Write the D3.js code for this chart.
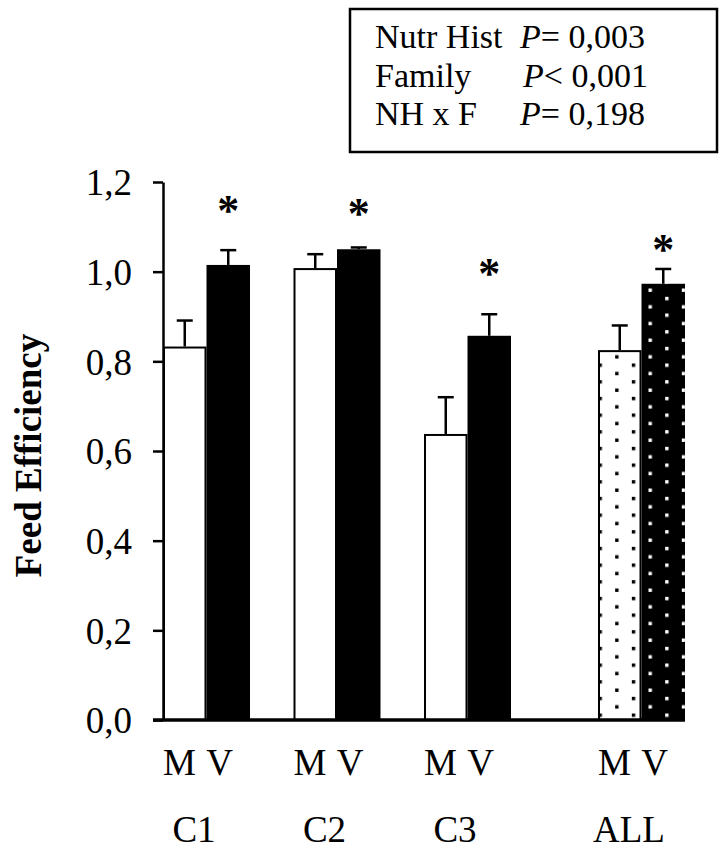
<!DOCTYPE html>
<html>
<head>
<meta charset="utf-8">
<script src="https://cdn.jsdelivr.net/npm/d3@7/dist/d3.min.js"></script>
<style>
  html, body { margin: 0; padding: 0; background: #fff; }
  svg { display: block; }
  text { font-family: "Liberation Serif", "Times New Roman", serif; fill: #000; }
</style>
</head>
<body>
<svg id="chart" width="726" height="851"></svg>
<script>
// ---- data ----
const groups = ["C1", "C2", "C3", "ALL"];
const gapsBefore = [0, 1, 1, 2];           // empty slots before each group
const meanM = [0.833, 1.008, 0.638, 0.825];
const errM  = [0.058, 0.031, 0.082, 0.055];
const meanV = [1.015, 1.050, 0.857, 0.973];
const errV  = [0.033, 0.004, 0.048, 0.033];
const starLevel = [1.15, 1.145, 1.01, 1.065];
const yTicks = [0, 0.2, 0.4, 0.6, 0.8, 1.0, 1.2];
const yTickLabels = ["0,0", "0,2", "0,4", "0,6", "0,8", "1,0", "1,2"];
const legendLabels = ["Nutr Hist", "Family", "NH x F"];
const legendOps = ["= ", "< ", "= "];
const legendP = ["0,003", "0,001", "0,198"];
const yTitle = "Feed Efficiency";

// ---- scales ----
const slots = [];
groups.forEach((g, i) => {
  for (let k = 0; k < gapsBefore[i]; k++) slots.push("gap" + i + "_" + k);
  slots.push(g + "-M", g + "-V");
});
const x = d3.scaleBand().domain(slots).range([163, 685]).paddingInner(0).paddingOuter(0);
const y = d3.scaleLinear().domain([0, 1.2]).range([720, 182]);

const svg = d3.select("#chart");

// ---- patterns ----
const defs = svg.append("defs");
function dotPattern(id, bg, fg) {
  const p = defs.append("pattern").attr("id", id)
    .attr("patternUnits", "userSpaceOnUse")
    .attr("x", 598.5).attr("y", 363.5)
    .attr("width", 100 / 3).attr("height", 50 / 3);
  p.append("rect").attr("x", -1).attr("y", -1).attr("width", 36).attr("height", 20).attr("fill", bg);
  p.append("rect").attr("x", 0).attr("y", 0).attr("width", 3.4).attr("height", 3.4).attr("fill", fg);
  p.append("rect").attr("x", 50 / 3).attr("y", 25 / 3).attr("width", 3.4).attr("height", 3.4).attr("fill", fg);
}
dotPattern("dotsM", "#fff", "#000");
dotPattern("dotsV", "#000", "#fff");

// ---- bars ----
const bw = x.bandwidth();
const data = groups.map((g, i) => ({ g, i, m: meanM[i], em: errM[i], v: meanV[i], ev: errV[i], s: starLevel[i] }));

function errBar(cx, top, err) {
  svg.append("line").attr("x1", cx).attr("x2", cx).attr("y1", y(top)).attr("y2", y(top + err))
    .attr("stroke", "#000").attr("stroke-width", 2.5);
  svg.append("line").attr("x1", cx - 8).attr("x2", cx + 8).attr("y1", y(top + err)).attr("y2", y(top + err))
    .attr("stroke", "#000").attr("stroke-width", 2.5);
}
data.forEach(d => {
  errBar(x(d.g + "-M") + bw / 2, d.m, d.em);
  errBar(x(d.g + "-V") + bw / 2, d.v, d.ev);
});

data.forEach(d => {
  const all = d.g === "ALL";
  svg.append("rect")
    .attr("x", x(d.g + "-M") + 1).attr("y", y(d.m) + 1)
    .attr("width", bw - 2).attr("height", y(0) - y(d.m) - 1)
    .attr("fill", all ? "url(#dotsM)" : "#fff")
    .attr("stroke", "#000").attr("stroke-width", 2);
  svg.append("rect")
    .attr("x", x(d.g + "-V")).attr("y", y(d.v))
    .attr("width", bw).attr("height", y(0) - y(d.v))
    .attr("fill", all ? "url(#dotsV)" : "#000");
  svg.append("text")
    .attr("x", x(d.g + "-V") + bw / 2)
    .attr("y", y(d.s) + 21)
    .attr("text-anchor", "middle")
    .attr("font-size", 44)
    .attr("font-weight", "bold")
    .text("*");
});

// ---- y axis ----
const yAxis = d3.axisLeft(y).tickValues(yTicks).tickSizeInner(10).tickSizeOuter(0)
  .tickFormat((d, i) => yTickLabels[i]);
const ya = svg.append("g").attr("transform", "translate(163,0)").call(yAxis);
ya.select(".domain").attr("stroke", "#000").attr("stroke-width", 2.5);
ya.selectAll(".tick line").attr("stroke", "#000").attr("stroke-width", 2.5);
ya.selectAll(".tick text")
  .attr("x", -31).attr("dy", "0.35em")
  .style("font-family", '"Liberation Serif", "Times New Roman", serif')
  .style("font-size", "37px").attr("fill", "#000");

// baseline
svg.append("line").attr("x1", 153).attr("x2", x("ALL-V") + bw)
  .attr("y1", y(0)).attr("y2", y(0)).attr("stroke", "#000").attr("stroke-width", 3.5);

// y title
svg.append("text")
  .attr("transform", `translate(41,${(y(0.87) + y(0.31)) / 2}) rotate(-90)`)
  .attr("text-anchor", "middle")
  .attr("font-size", 37).attr("font-weight", "bold")
  .text(yTitle);

// ---- x labels ----
data.forEach(d => {
  const left = x(d.g + "-M");
  svg.append("text").attr("x", left).attr("y", 775)
    .attr("font-size", 37).attr("textLength", 70).attr("lengthAdjust", "spacing").text("M V");
  svg.append("text").attr("x", left + 31).attr("y", 842)
    .attr("text-anchor", "middle").attr("font-size", 37).text(d.g);
});

// ---- legend box ----
svg.append("rect").attr("x", 350).attr("y", 9).attr("width", 367).attr("height", 143)
  .attr("fill", "#fff").attr("stroke", "#000").attr("stroke-width", 2.5);
legendLabels.forEach((lab, i) => {
  const by = 48 + i * 38.5;
  svg.append("text").attr("x", 375).attr("y", by).attr("font-size", 34).text(lab);
  const t = svg.append("text").attr("x", i === 1 ? 523 : 520).attr("y", by).attr("font-size", 34);
  t.append("tspan").attr("font-style", "italic").text("P");
  t.append("tspan").text(legendOps[i] + legendP[i]);
});
</script>
</body>
</html>
